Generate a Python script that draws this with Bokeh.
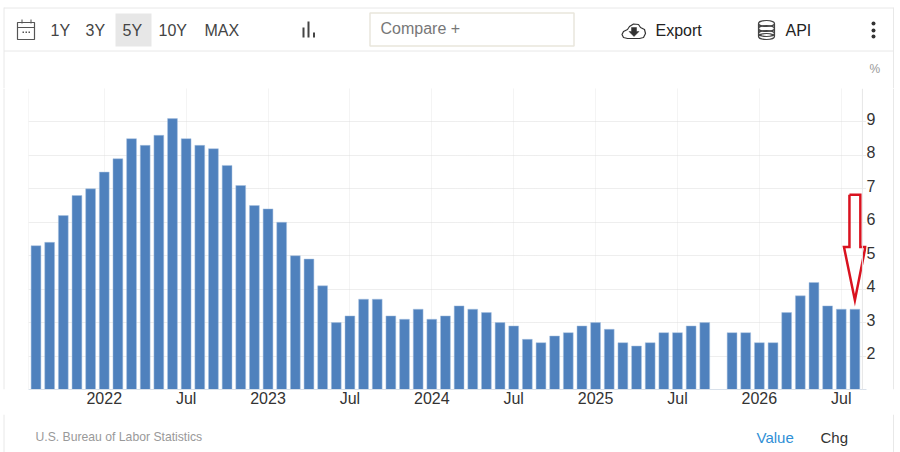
from bokeh.plotting import figure
from bokeh.layouts import column, row
from bokeh.models import Range1d, FixedTicker, Span
from bokeh.core.properties import value
from bokeh.embed import file_html
from bokeh.resources import INLINE

months = ["2021-08","2021-09","2021-10","2021-11","2021-12",
 "2022-01","2022-02","2022-03","2022-04","2022-05","2022-06","2022-07","2022-08","2022-09","2022-10","2022-11","2022-12",
 "2023-01","2023-02","2023-03","2023-04","2023-05","2023-06","2023-07","2023-08","2023-09","2023-10","2023-11","2023-12",
 "2024-01","2024-02","2024-03","2024-04","2024-05","2024-06","2024-07","2024-08","2024-09","2024-10","2024-11","2024-12",
 "2025-01","2025-02","2025-03","2025-04","2025-05","2025-06","2025-07","2025-08","2025-09","2025-10","2025-11","2025-12",
 "2026-01","2026-02","2026-03","2026-04","2026-05","2026-06","2026-07","2026-08"]
values = [5.3,5.4,6.2,6.8,7.0,
 7.5,7.9,8.5,8.3,8.6,9.1,8.5,8.3,8.2,7.7,7.1,6.5,
 6.4,6.0,5.0,4.9,4.1,3.0,3.2,3.7,3.7,3.2,3.1,3.4,
 3.1,3.2,3.5,3.4,3.3,3.0,2.9,2.5,2.4,2.6,2.7,2.9,
 3.0,2.8,2.4,2.3,2.4,2.7,2.7,2.9,3.0,None,2.7,2.7,
 2.4,2.4,3.3,3.8,4.2,3.5,3.4,3.4]
x_tick_months = ["2022-01","2022-07","2023-01","2023-07","2024-01","2024-07","2025-01","2025-07","2026-01","2026-07"]
x_tick_labels = ["2022","Jul","2023","Jul","2024","Jul","2025","Jul","2026","Jul"]
y_ticks = [1,2,3,4,5,6,7,8,9,10]
y_labels = ["","2","3","4","5","6","7","8","9",""]
range_buttons = ["1Y","3Y","5Y","10Y","MAX"]
range_button_x = [50,85,122,158,204]
arrow_x = [59.6,60.4,60.4,60.77,60.0,59.2,59.6,59.6]
arrow_y = [6.82,6.82,5.26,5.26,3.67,5.26,5.26,6.82]

BAR = "#4f81bd"
FONT = "Liberation Sans"
EDGE = "#e8e8e8"

xs = [i for i, v in enumerate(values) if v is not None]
ys = [v for v in values if v is not None]


def strip(x0, x1, y_top, y_bot):
    f = figure(width=x1 - x0, height=y_bot - y_top, output_backend="svg", toolbar_location=None,
               x_range=Range1d(x0, x1), y_range=Range1d(y_bot, y_top),
               x_axis_location=None, y_axis_location=None,
               min_border=0, outline_line_color=None, margin=0)
    f.grid.visible = False
    return f


def txt(f, s, x, y, size, color):
    f.text(x=[x], y=[y], text=[s], text_font=value(FONT), text_font_size=value(f"{size}px"),
           text_color=color, text_baseline="middle", text_align="left")


def box(f, l, r, t, b, fill=None, line=None, lw=1):
    f.quad(left=[l], right=[r], top=[t], bottom=[b], fill_color=fill, line_color=line, line_width=lw,
           fill_alpha=1 if fill else 0)


def vedges(f, y0, y1):
    f.line([3.5, 3.5], [y0, y1], line_color=EDGE, line_width=1)
    f.line([893, 893], [y0, y1], line_color=EDGE, line_width=1)


# ---------- toolbar strip ----------
top = strip(0, 900, 0, 88)
vedges(top, 7, 88)
top.line([3.5, 893], [7.5, 7.5], line_color=EDGE, line_width=1)
top.line([3.5, 893], [50.5, 50.5], line_color=EDGE, line_width=1)
box(top, 115, 151, 13, 46, fill="#e7e7e7")
for s, x in zip(range_buttons, range_button_x):
    txt(top, s, x, 30, 16, "#444444")
box(top, 369.5, 573.5, 12.5, 45.5, line="#e9e6dc", lw=1.5)
txt(top, "Compare +", 380, 28, 16, "#777777")
txt(top, "Export", 655, 30, 16, "#222222")
txt(top, "API", 785, 30, 16, "#222222")
txt(top, "%", 869, 68, 12, "#999999")
# calendar icon
box(top, 17, 34, 22, 39, line="#555555", lw=1.2)
top.line([17, 34], [27, 27], line_color="#555555", line_width=1.2)
box(top, 21, 22, 19, 23, fill="#555555")
box(top, 30, 31, 19, 23, fill="#555555")
for x in (22, 25, 28):
    box(top, x, x + 1.5, 31, 32.5, fill="#555555")
# bars icon
box(top, 302, 304, 27, 37, fill="#444444")
box(top, 307, 309, 21, 37, fill="#444444")
box(top, 312.5, 314.5, 32, 37, fill="#444444")
# cloud icon
top.patch([627, 623, 621.5, 623, 627, 629, 633, 638, 640, 644, 645, 643, 639, 627],
          [38, 37, 34, 31, 29, 26, 23.5, 24, 27, 29, 33, 37, 38, 38],
          fill_alpha=0, line_color="#333333", line_width=1.2)
top.patch([631, 636, 636, 638.5, 633.5, 628.5, 631], [27, 27, 31, 31, 36, 31, 31],
          fill_color="#333333", line_color="#333333", line_width=0.5)
# database icon
for y in (23, 28, 33):
    top.ellipse(x=[766], y=[y], width=16, height=6, fill_alpha=0, line_color="#444444", line_width=1.2)
top.line([758, 758], [23, 36], line_color="#444444", line_width=1.2)
top.line([774, 774], [23, 36], line_color="#444444", line_width=1.2)
top.ellipse(x=[766], y=[36], width=16, height=6, fill_alpha=0, line_color="#444444", line_width=1.2)
# menu dots
top.circle(x=[873, 873, 873], y=[23, 30, 36], radius=2, fill_color="#333333", line_color=None)

# ---------- side strips beside the chart ----------
left = strip(0, 28, 88, 414)
left.line([3.5, 3.5], [88, 414], line_color=EDGE, line_width=1)
right = strip(886, 900, 88, 414)
right.line([893, 893], [88, 414], line_color=EDGE, line_width=1)

# ---------- chart ----------
p = figure(width=886 - 28, height=414 - 88, output_backend="svg", toolbar_location=None,
           x_range=Range1d(-0.55, 60.85), y_range=Range1d(1, 10),
           x_axis_location="below", y_axis_location="right",
           min_border_left=0, min_border_right=20, min_border_top=0, min_border_bottom=25,
           outline_line_color=None, margin=0)
p.vbar(x=xs, top=ys, bottom=1, width=0.72, fill_color=BAR, line_color="#a9c3e0", line_width=0.5)

xa = p.xaxis[0]
tick_idx = [months.index(m) for m in x_tick_months]
xa.ticker = FixedTicker(ticks=tick_idx)
xa.major_label_overrides = dict(zip(tick_idx, x_tick_labels))
xa.major_label_text_font = FONT
xa.major_label_text_font_size = "16px"
xa.major_label_text_color = "#333333"
xa.major_tick_line_color = None
xa.major_tick_in = 0
xa.major_tick_out = 0
xa.minor_tick_line_color = None
xa.axis_line_color = "#d8e0ea"
xa.major_label_standoff = 0

# the labels sit 3px above their gridlines, as in the reference
p.extra_y_ranges = {"labels": Range1d(0.91, 9.91)}
ya = p.yaxis[0]
ya.y_range_name = "labels"
ya.ticker = FixedTicker(ticks=y_ticks)
ya.major_label_overrides = dict(zip(y_ticks, y_labels))
ya.major_label_text_font = FONT
ya.major_label_text_font_size = "16px"
ya.major_label_text_color = "#333333"
ya.major_tick_line_color = None
ya.major_tick_in = 0
ya.major_tick_out = 0
ya.minor_tick_line_color = None
ya.axis_line_color = None
ya.major_label_standoff = 0

p.xgrid.ticker = FixedTicker(ticks=tick_idx)
p.xgrid.grid_line_color = "#e8e8e8"
p.xgrid.grid_line_dash = "1 1"
p.ygrid.ticker = FixedTicker(ticks=y_ticks)
p.ygrid.grid_line_color = "#dddddd"
p.ygrid.grid_line_dash = "1 1"
p.add_layout(Span(location=-0.55, dimension="height", line_color="#eeeeee", line_width=1))
p.add_layout(Span(location=60.55, dimension="height", line_color="#e6e6e6", line_width=1))

p.line(arrow_x, arrow_y, line_color="#d9121f", line_width=2.5, line_join="miter")

# ---------- footer strip ----------
foot = strip(0, 900, 414, 452)
vedges(foot, 414, 452)
txt(foot, "U.S. Bureau of Labor Statistics", 35, 436, 12.2, "#999999")
txt(foot, "Value", 756, 437, 15, "#2f8fd6")
txt(foot, "Chg", 820, 437, 15, "#333333")

layout = column(top, row(left, p, right, spacing=0, margin=0), foot, spacing=0, margin=0)
open("out.html", "w").write(file_html(layout, INLINE))
